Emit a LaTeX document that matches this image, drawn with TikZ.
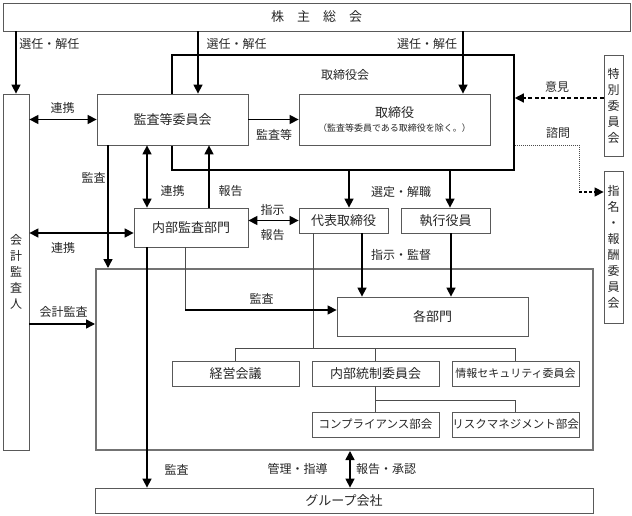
\documentclass[tikz,border=0pt]{standalone}
\usepackage{fontspec}
\setmainfont{Noto Sans CJK JP}
\usetikzlibrary{arrows.meta}
\begin{document}
\begin{tikzpicture}[x=1pt,y=-1pt,
  box/.style={draw=black!65, fill=white, line width=0.8pt, inner sep=0pt, text=black!85, font=\fontsize{13}{15}\selectfont},
  vbox/.style={box, align=center, font=\fontsize{12}{16}\selectfont},
  lbl/.style={text=black!85, font=\fontsize{12}{14}\selectfont, inner sep=0pt},
  arr/.style={line width=1.5pt, -{Triangle[length=9pt,width=9pt]}},
  darr/.style={line width=1.5pt, {Triangle[length=9pt,width=9pt]}-{Triangle[length=9pt,width=9pt]}},
  thinline/.style={line width=0.8pt, draw=black!70},
  dasharr/.style={line width=1.4pt, dash pattern=on 4pt off 2.5pt, -{Triangle[length=9pt,width=9pt]}},
  dotline/.style={line width=0.9pt, dash pattern=on 1pt off 1pt, draw=black!70}]
\useasboundingbox (0,0) rectangle (632,516);
% frames
\node[draw=black, line width=1.6pt, minimum width=342, minimum height=115, inner sep=0pt] (torikai) at (343,112.5) {};
\node[draw=black!55, line width=2pt, minimum width=497, minimum height=181, inner sep=0pt] (frame) at (344.5,359.5) {};
% helper coordinates
\coordinate (xa) at (198,0);
\coordinate (xb) at (463,0);
\coordinate (ye) at (0,98);
\coordinate (xf) at (108,0);
\coordinate (xg) at (147,0);
\coordinate (xh) at (209,0);
\coordinate (yi) at (0,233);
\coordinate (xj) at (349,0);
\coordinate (xk) at (450,0);
\coordinate (xl) at (362,0);
\coordinate (xl2) at (451,0);
\coordinate (xm) at (313,0);
\coordinate (bus) at (0,348);
\coordinate (bus2) at (0,400);
\coordinate (xn) at (185,0);
\coordinate (yo) at (0,310);
\coordinate (xp) at (350,0);
\coordinate (yq) at (0,324);
\coordinate (sk) at (579,145);
\coordinate (sk2) at (579,192);
% boxes
\node[box, minimum width=627, minimum height=28] (soukai) at (316.5,17) {株　主　総　会};
\node[vbox, minimum width=26, minimum height=356] (kaikei) at (16,272) {会\\計\\監\\査\\人};
\node[box, minimum width=151, minimum height=51] (kansa) at (172.5,119.5) {監査等委員会};
\node[box, minimum width=191, minimum height=51, align=center] (tori) at (394.5,119.5) {取締役\\[-1pt]{\fontsize{9}{10}\selectfont （監査等委員である取締役を除く。）}};
\node[vbox, minimum width=19, minimum height=101] (tokubetsu) at (613.5,105.5) {特\\別\\委\\員\\会};
\node[vbox, minimum width=19, minimum height=152] (shimei) at (613.5,247) {指\\名\\・\\報\\酬\\委\\員\\会};
\node[box, minimum width=114, minimum height=39] (naibu) at (191,227.5) {内部監査部門};
\node[box, minimum width=89, minimum height=25] (daihyo) at (343.5,220.5) {代表取締役};
\node[box, minimum width=89, minimum height=25] (shikko) at (445.5,220.5) {執行役員};
\node[box, minimum width=191, minimum height=39] (kakubu) at (432.5,316.5) {各部門};
\node[box, minimum width=127, minimum height=25] (keiei) at (235.5,373.5) {経営会議};
\node[box, minimum width=127, minimum height=25] (naitou) at (375.5,373.5) {内部統制委員会};
\node[box, minimum width=127, minimum height=25, font=\fontsize{11}{13}\selectfont] (joho) at (515.5,373.5) {情報セキュリティ委員会};
\node[box, minimum width=127, minimum height=25, font=\fontsize{11.5}{13}\selectfont] (comp) at (375.5,424.5) {コンプライアンス部会};
\node[box, minimum width=127, minimum height=25, font=\fontsize{11.5}{13}\selectfont] (risk) at (515.5,424.5) {リスクマネジメント部会};
\node[box, minimum width=498, minimum height=25] (group) at (344,500.5) {グループ会社};
% connectors
\draw[arr] (soukai.south -| kaikei.north) -- (kaikei.north);
\draw[arr] (soukai.south -| xa) -- (kansa.north -| xa);
\draw[arr] (soukai.south -| xb) -- (tori.north -| xb);
\draw[arr] (kansa.east) -- (tori.west);
\draw[darr] (kaikei.east |- kansa.west) -- (kansa.west);
\draw[dasharr] (tokubetsu.west |- ye) -- (torikai.east |- ye);
\draw[dotline] (torikai.east |- sk) -- (sk) -- (sk2);
\draw[dasharr, dash pattern=on 3pt off 2pt] (sk2) -- (shimei.west |- sk2);
\draw[arr] (kansa.south -| xf) -- (frame.north -| xf);
\draw[darr] (kansa.south -| xg) -- (naibu.north -| xg);
\draw[arr] (naibu.north -| xh) -- (kansa.south -| xh);
\draw[darr] (kaikei.east |- yi) -- (naibu.west |- yi);
\draw[darr] (naibu.east |- daihyo.west) -- (daihyo.west);
\draw[arr] (torikai.south -| xj) -- (daihyo.north -| xj);
\draw[arr] (torikai.south -| xk) -- (shikko.north -| xk);
\draw[arr] (daihyo.south -| xl) -- (kakubu.north -| xl);
\draw[arr] (shikko.south -| xl2) -- (kakubu.north -| xl2);
\draw[thinline] (daihyo.south -| xm) -- (xm |- bus);
\draw[thinline] (keiei.north) -- (keiei.north |- bus) -- (joho.north |- bus) -- (joho.north);
\draw[thinline] (naitou.north) -- (naitou.north |- bus);
\draw[thinline] (naitou.south) -- (comp.north);
\draw[thinline] (naitou.south |- bus2) -- (risk.north |- bus2) -- (risk.north);
\draw[thinline] (naibu.south -| xn) -- (xn |- yo);
\draw[arr, line width=1.3pt] (xn |- yo) -- (kakubu.west |- yo);
\draw[arr] (naibu.south -| xg) -- (group.north -| xg);
\draw[darr] (frame.south -| xp) -- (group.north -| xp);
\draw[arr] (kaikei.east |- yq) -- (frame.west |- yq);
% labels
\node[lbl] (l1) at (49.5,44) {選任・解任};
\node[lbl] (l2) at (236.5,44) {選任・解任};
\node[lbl] (l3) at (427,44) {選任・解任};
\node[lbl] (l4) at (345,75) {取締役会};
\node[lbl] (l5) at (62.5,108) {連携};
\node[lbl] (l6) at (274,135) {監査等};
\node[lbl] (l7) at (557,87) {意見};
\node[lbl] (l8) at (558,133) {諮問};
\node[lbl] (l9) at (93.5,178) {監査};
\node[lbl] (l10) at (172.5,191) {連携};
\node[lbl] (l11) at (230.5,191) {報告};
\node[lbl] (l12) at (272.5,210) {指示};
\node[lbl] (l13) at (272.5,235) {報告};
\node[lbl] (l14) at (401,192) {選定・解職};
\node[lbl] (l15) at (401,255) {指示・監督};
\node[lbl] (l16) at (63,248) {連携};
\node[lbl] (l17) at (261.5,299) {監査};
\node[lbl] (l18) at (63.5,312) {会計監査};
\node[lbl] (l19) at (176.5,470) {監査};
\node[lbl] (l20) at (297.5,469) {管理・指導};
\node[lbl] (l21) at (386,469) {報告・承認};
\end{tikzpicture}
\end{document}
